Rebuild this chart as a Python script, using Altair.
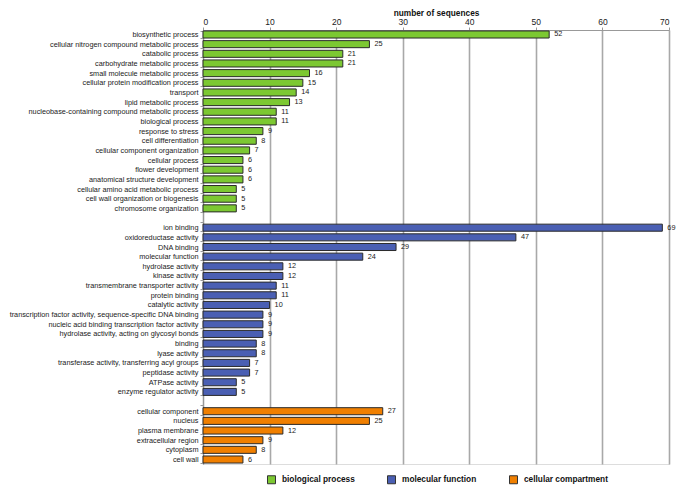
import altair as alt
import pandas as pd

bp_labels = [
    "biosynthetic process",
    "cellular nitrogen compound metabolic process",
    "catabolic process",
    "carbohydrate metabolic process",
    "small molecule metabolic process",
    "cellular protein modification process",
    "transport",
    "lipid metabolic process",
    "nucleobase-containing compound metabolic process",
    "biological process",
    "response to stress",
    "cell differentiation",
    "cellular component organization",
    "cellular process",
    "flower development",
    "anatomical structure development",
    "cellular amino acid metabolic process",
    "cell wall organization or biogenesis",
    "chromosome organization",
]
bp_values = [52, 25, 21, 21, 16, 15, 14, 13, 11, 11, 9, 8, 7, 6, 6, 6, 5, 5, 5]

mf_labels = [
    "ion binding",
    "oxidoreductase activity",
    "DNA binding",
    "molecular function",
    "hydrolase activity",
    "kinase activity",
    "transmembrane transporter activity",
    "protein binding",
    "catalytic activity",
    "transcription factor activity, sequence-specific DNA binding",
    "nucleic acid binding transcription factor activity",
    "hydrolase activity, acting on glycosyl bonds",
    "binding",
    "lyase activity",
    "transferase activity, transferring acyl groups",
    "peptidase activity",
    "ATPase activity",
    "enzyme regulator activity",
]
mf_values = [69, 47, 29, 24, 12, 12, 11, 11, 10, 9, 9, 9, 8, 8, 7, 7, 5, 5]

cc_labels = [
    "cellular component",
    "nucleus",
    "plasma membrane",
    "extracellular region",
    "cytoplasm",
    "cell wall",
]
cc_values = [27, 25, 12, 9, 8, 6]

groups = ["biological process", "molecular function", "cellular compartment"]
colors = ["#7cc832", "#4a5fb3", "#f07f00"]

rows = []
for g, labs, vals in zip(groups, [bp_labels, mf_labels, cc_labels], [bp_values, mf_values, cc_values]):
    for l, v in zip(labs, vals):
        rows.append({"category": l, "value": v, "group": g})
df = pd.DataFrame(rows)

order = bp_labels + [" "] + mf_labels + ["  "] + cc_labels

FONT = "Liberation Sans"

y_enc = alt.Y(
    "category:N",
    scale=alt.Scale(domain=order, paddingInner=0.27, paddingOuter=0.1),
    axis=alt.Axis(
        title=None,
        labelFont=FONT,
        labelFontSize=7.3,
        labelColor="#1a1a1a",
        labelLimit=400,
        labelPadding=2,
        tickSize=3,
        tickBand="extent",
        tickColor="#999999",
        domainColor="#999999",
        grid=False,
    ),
)

x_enc = alt.X(
    "value:Q",
    scale=alt.Scale(domain=[0, 70], nice=False),
    axis=alt.Axis(
        orient="top",
        title="number of sequences",
        titleFont=FONT,
        titleFontSize=8.3,
        titleFontWeight="bold",
        titleColor="#111111",
        titlePadding=0,
        values=list(range(0, 75, 5)),
        labelExpr="datum.value % 10 === 0 ? datum.label : ''",
        labelFont=FONT,
        labelFontSize=8.5,
        labelColor="#222222",
        labelPadding=1,
        tickSize=3,
        tickColor={"condition": {"test": "datum.value % 10 === 0", "value": "#999999"}, "value": "transparent"},
        domainColor="#999999",
        grid=True,
        gridColor={"condition": {"test": "datum.value % 10 === 0", "value": "#a8a8a8"}, "value": "#d2d2d2"},
        gridWidth={"condition": {"test": "datum.value % 10 === 0", "value": 1.6}, "value": 1.2},
    ),
)

bars = alt.Chart(df).mark_bar(stroke="#2a2a2a", strokeWidth=1).encode(
    x=x_enc,
    y=y_enc,
    color=alt.Color(
        "group:N",
        scale=alt.Scale(domain=groups, range=colors),
        legend=alt.Legend(
            title=None,
            orient="none",
            legendX=64,
            legendY=445,
            direction="horizontal",
            symbolType="square",
            symbolSize=64,
            symbolStrokeColor="#333333",
            symbolStrokeWidth=1,
            symbolOpacity=1,
            labelFont=FONT,
            labelFontSize=8.3,
            labelFontWeight="bold",
            labelColor="#111111",
            labelOffset=6,
            columnPadding=30,
        ),
    ),
)

texts = alt.Chart(df).mark_text(
    align="left", baseline="middle", dx=5, font=FONT, fontSize=7.3, color="#222222"
).encode(x="value:Q", y=alt.Y("category:N"), text="value:Q")

chart = (
    alt.layer(bars, texts)
    .properties(width=466, height=434, padding={"left": 0, "top": 0, "right": 0, "bottom": 0})
    .configure_view(stroke="transparent")
    .configure(background="white")
)

chart.save("out.html", embed_options={"renderer": "svg", "actions": False})
